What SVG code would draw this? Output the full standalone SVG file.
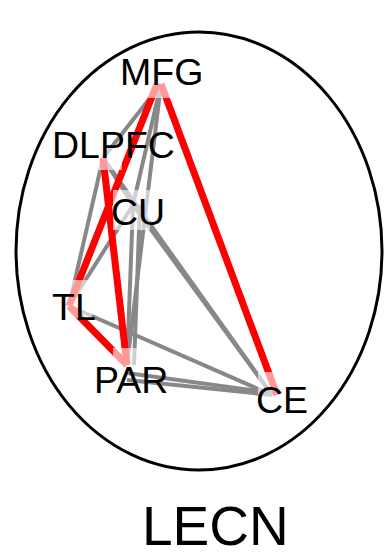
<svg xmlns="http://www.w3.org/2000/svg" width="384" height="557" viewBox="0 0 384 557">
<style>
.lbl{font-family:"Liberation Sans",Arial,sans-serif;font-size:37.5px;fill:#000}
.red{stroke:#ff0000;stroke-width:7;stroke-linecap:butt;fill:none}
.gray{stroke:#888888;stroke-width:4;fill:none}
.fade{fill:#ffffff;fill-opacity:0.6}
</style>
<rect width="384" height="557" fill="#ffffff"/>
<ellipse cx="199" cy="251" rx="183" ry="219" fill="none" stroke="#000" stroke-width="3"/>
<g id="connectors">
<line class="gray" x1="161" y1="84" x2="103" y2="158"/>
<line class="gray" x1="161" y1="84" x2="133" y2="205"/>
<line class="gray" x1="161" y1="84" x2="127" y2="365"/>
<line class="gray" x1="103" y1="158" x2="133" y2="205"/>
<line class="gray" x1="103" y1="158" x2="69" y2="306"/>
<line class="gray" x1="133" y1="205" x2="69" y2="306"/>
<line class="gray" x1="133" y1="205" x2="127" y2="365"/>
<line class="gray" x1="140" y1="205" x2="134" y2="365"/>
<line class="gray" x1="133" y1="205" x2="272" y2="395"/>
<line class="gray" x1="103" y1="158" x2="272" y2="395"/>
<line class="gray" x1="69" y1="306" x2="272" y2="395"/>
<line class="gray" x1="127" y1="380" x2="272" y2="395"/>
<line class="gray" x1="127" y1="373" x2="272" y2="393"/>
<line class="red" x1="161" y1="84" x2="277" y2="395"/>
<line class="red" x1="157" y1="84" x2="69" y2="306"/>
<line class="red" x1="103" y1="158" x2="127" y2="365"/>
<line class="red" x1="69" y1="306" x2="127" y2="365"/>
<rect class="fade" x="148" y="72" width="28" height="26"/>
<rect class="fade" x="96" y="148" width="26" height="22"/>
<rect class="fade" x="113" y="190" width="37" height="40"/>
<rect class="fade" x="60" y="280" width="32" height="38"/>
<rect class="fade" x="113" y="348" width="28" height="24"/>
<rect class="fade" x="258" y="372" width="27" height="27"/>
</g>
<g id="MFG"><text class="lbl" x="120" y="85">MFG</text></g>
<g id="DLPFC"><text class="lbl" x="52" y="158">DLPFC</text></g>
<g id="CU"><text class="lbl" x="111" y="225">CU</text></g>
<g id="TL"><text class="lbl" x="52" y="320">TL</text></g>
<g id="PAR"><text class="lbl" x="94" y="393">PAR</text></g>
<g id="CE"><text class="lbl" x="256" y="413">CE</text></g>
<g id="title"><text x="142" y="545" style="font-family:'Liberation Sans',Arial,sans-serif;font-size:55px;fill:#000">LECN</text></g>
</svg>
